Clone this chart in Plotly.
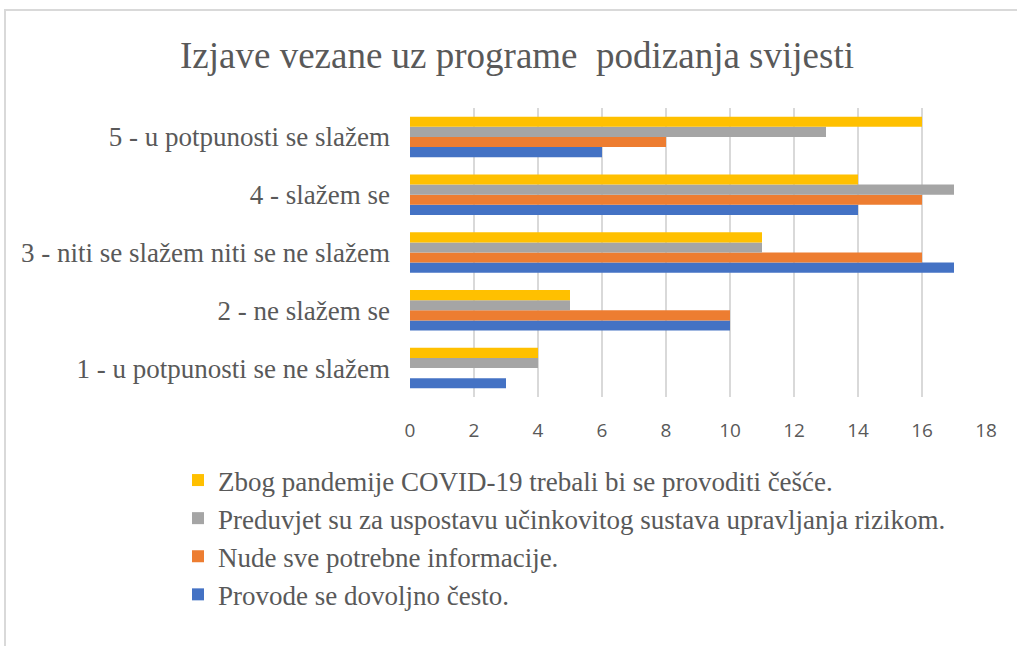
import plotly.graph_objects as go

categories = [
    "1 - u potpunosti se ne slažem",
    "2 - ne slažem se",
    "3 - niti se slažem niti se ne slažem",
    "4 - slažem se",
    "5 - u potpunosti se slažem",
]

series_names = [
    "Provode se dovoljno često.",
    "Nude sve potrebne informacije.",
    "Preduvjet su za uspostavu učinkovitog sustava upravljanja rizikom.",
    "Zbog pandemije COVID-19 trebali bi se provoditi češće.",
]

provode = [3, 10, 17, 14, 6]
nude = [0, 10, 16, 16, 8]
preduvjet = [4, 5, 11, 17, 13]
pandemija = [4, 5, 11, 14, 16]

series_values = [provode, nude, preduvjet, pandemija]
colors = ["#4472C4", "#ED7D31", "#A5A5A5", "#FFC000"]
legend_ranks = [4, 3, 2, 1]

x_ticks = [0, 2, 4, 6, 8, 10, 12, 14, 16, 18]

SERIF = "Liberation Serif, Times New Roman, DejaVu Serif, serif"

fig = go.Figure()
for name, vals, col, rank in zip(series_names, series_values, colors, legend_ranks):
    fig.add_trace(go.Bar(
        y=categories, x=vals, name=name, orientation="h",
        marker=dict(color=col, line=dict(width=0)),
        legendgroup=name, legendrank=rank,
    ))

L, R, T, B = 410, 31, 108, 249
W, H = 1017, 646
pw = W - L - R
ph = H - T - B

def px_x(x):
    return (x - L) / pw

def px_y(y):
    return (H - B - y) / ph

fig.update_layout(
    width=W, height=H,
    margin=dict(l=L, r=R, t=T, b=B, autoexpand=False),
    paper_bgcolor="white", plot_bgcolor="white",
    barmode="group", bargap=0.3, bargroupgap=0,
    title=dict(
        text="Izjave vezane uz programe  podizanja svijesti",
        x=517 / W, xref="container", xanchor="center",
        y=1 - 55 / H, yref="container", yanchor="middle",
        font=dict(family=SERIF, size=37, color="#595959"),
    ),
    legend=dict(
        traceorder="grouped", tracegroupgap=0,
        x=px_x(178), xanchor="left",
        y=px_y(456), yanchor="top",
        font=dict(family=SERIF, size=27, color="#595959"),
        itemwidth=30,
        bgcolor="rgba(0,0,0,0)",
    ),
    xaxis=dict(
        range=[0, 18], tickvals=x_ticks,
        showgrid=True, gridcolor="#D9D9D9", gridwidth=1.5,
        zeroline=False, showline=False, automargin=False,
        tickfont=dict(family="Open Sans", size=19, color="#595959"),
        ticklabelstandoff=20,
    ),
    yaxis=dict(
        categoryorder="array", categoryarray=categories,
        showgrid=False, zeroline=False, automargin=False,
        showline=False,
        tickfont=dict(family=SERIF, size=27, color="#595959"),
        ticklabelstandoff=19,
    ),
    shapes=[
        dict(type="rect", xref="paper", yref="paper",
             x0=px_x(5), x1=px_x(1030), y0=px_y(670), y1=px_y(10),
             line=dict(color="#D9D9D9", width=2), fillcolor="rgba(0,0,0,0)",
             layer="below"),
    ],
)

fig.write_html(
    "out.html",
    config={"displayModeBar": False},
    post_script="document.body.style.margin='0';document.body.style.overflow='hidden';",
)
